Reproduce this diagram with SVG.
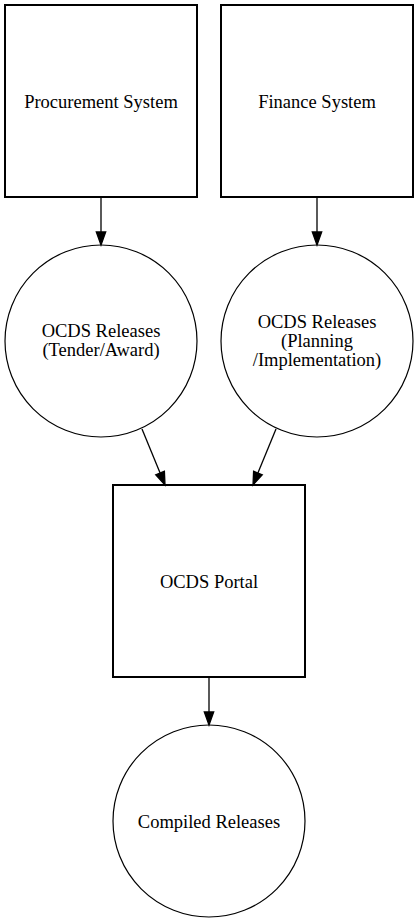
<svg xmlns="http://www.w3.org/2000/svg" width="419" height="923" viewBox="0 0 419 923">
<style>
.box{fill:#fff;stroke:#000;stroke-width:2}
.circ{fill:#fff;stroke:#000;stroke-width:1.2}
.lbl{font-family:"Liberation Serif","DejaVu Serif","Times New Roman",serif;font-size:18.5px;fill:#000;text-anchor:middle}
.edge{stroke:#000;stroke-width:1.3;fill:none}
.head{fill:#000;stroke:#000;stroke-width:1.3}
</style>
<rect width="419" height="923" fill="#fff"/>
<g id="procurement">
<rect class="box" x="5" y="5" width="192" height="192"/>
<text class="lbl" x="101" y="108">Procurement System</text>
</g>
<g id="finance">
<rect class="box" x="221" y="5" width="192" height="192"/>
<text class="lbl" x="317" y="108">Finance System</text>
</g>
<g id="releases_tender">
<circle class="circ" cx="101" cy="341" r="96"/>
<text class="lbl" x="101" y="337">OCDS Releases</text>
<text class="lbl" x="101" y="356">(Tender/Award)</text>
</g>
<g id="releases_planning">
<circle class="circ" cx="317" cy="341" r="96"/>
<text class="lbl" x="317" y="328">OCDS Releases</text>
<text class="lbl" x="317" y="347">(Planning</text>
<text class="lbl" x="317" y="366">/Implementation)</text>
</g>
<g id="portal">
<rect class="box" x="113" y="485" width="192" height="192"/>
<text class="lbl" x="209" y="588">OCDS Portal</text>
</g>
<g id="compiled">
<circle class="circ" cx="209" cy="821" r="96"/>
<text class="lbl" x="209" y="828">Compiled Releases</text>
</g>
<g id="connectors">
<line class="edge" x1="101" y1="197" x2="101" y2="232"/>
<polygon class="head" points="96.3,232 105.7,232 101,245"/>
<line class="edge" x1="317" y1="197" x2="317" y2="232"/>
<polygon class="head" points="312.3,232 321.7,232 317,245"/>
<line class="edge" x1="142" y1="429" x2="160.1" y2="473"/>
<polygon class="head" points="155.7,474.8 164.4,471.2 165,485"/>
<line class="edge" x1="276" y1="429" x2="257.9" y2="473"/>
<polygon class="head" points="262.3,474.8 253.6,471.2 253,485"/>
<line class="edge" x1="209" y1="677" x2="209" y2="712"/>
<polygon class="head" points="204.3,712 213.7,712 209,725"/>
</g>
</svg>
